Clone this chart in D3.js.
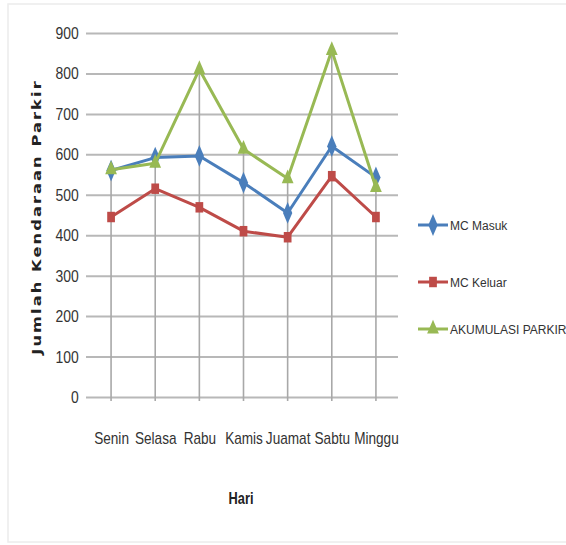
<!DOCTYPE html>
<html><head><meta charset="utf-8">
<script src="https://cdn.jsdelivr.net/npm/d3@7"></script>
<style>body{margin:0;background:#fff;} svg{display:block;}</style>
</head><body>
<svg id="c" width="566" height="545"></svg>
<script>
const days = ["Senin","Selasa","Rabu","Kamis","Juamat","Sabtu","Minggu"];
const mcMasuk = [560, 592, 596, 530, 455, 620, 543];
const mcKeluar = [445, 515, 469, 410, 395, 546, 445];
const akumulasi = [562, 578, 810, 613, 540, 857, 518];
const yTicks = [0,100,200,300,400,500,600,700,800,900];
const seriesNames = ["MC Masuk","MC Keluar","AKUMULASI PARKIR"];

const series = [
  {name: seriesNames[0], values: mcMasuk, color: "#4a7ebb", sym: d3.symbolDiamond, size: 75},
  {name: seriesNames[1], values: mcKeluar, color: "#be4b48", sym: d3.symbolSquare, size: 60},
  {name: seriesNames[2], values: akumulasi, color: "#98b954", sym: d3.symbolTriangle, size: 60}
];

const svg = d3.select("#c");
const font = "'Liberation Sans',Arial,sans-serif";

// outer faint border
svg.append("rect").attr("x",8).attr("y",4).attr("width",570).attr("height",538)
  .attr("fill","none").attr("stroke","#ececec").attr("stroke-width",1.5);

const plotL = 86, plotR = 398;
const y = d3.scaleLinear().domain([0,900]).range([397,33]);
const x = d3.scalePoint().domain(days).range([89,398]).padding(0.5);

// horizontal gridlines
const yAxis = d3.axisLeft(y).tickValues(yTicks).tickSize(-(plotR-plotL)).tickPadding(9);
const gy = svg.append("g").attr("transform",`translate(${plotL},0)`).call(yAxis);
gy.select(".domain").remove();
gy.selectAll(".tick line").attr("stroke","#b8b8b8").attr("stroke-width",2);
gy.selectAll(".tick text").attr("font-family",font).attr("font-size",17).attr("fill","#333")
  .attr("transform","scale(0.82,1)");

// drop lines from highest value to axis
svg.append("g").selectAll("line").data(days).join("line")
  .attr("x1",d=>x(d)).attr("x2",d=>x(d))
  .attr("y1",(d,i)=>y(Math.max(mcMasuk[i],mcKeluar[i],akumulasi[i])))
  .attr("y2",y(0)+4)
  .attr("stroke","#a8a8a8").attr("stroke-width",1.6);

// x axis labels
const xAxis = d3.axisBottom(x).tickSize(0).tickPadding(36);
const gx = svg.append("g").attr("transform",`translate(0,${y(0)})`).call(xAxis);
gx.select(".domain").remove();
gx.selectAll(".tick text").attr("font-family",font).attr("font-size",16).attr("fill","#333")
  .attr("transform","scale(0.85,1)");

// series lines and markers
const line = d3.line().x((d,i)=>x(days[i])).y(d=>y(d));
series.forEach(s=>{
  svg.append("path").datum(s.values).attr("d",line)
    .attr("fill","none").attr("stroke",s.color).attr("stroke-width",3).attr("stroke-linejoin","round");
  svg.append("g").selectAll("path").data(s.values).join("path")
    .attr("transform",(d,i)=>`translate(${x(days[i])},${y(d)}) scale(1,1.35)`)
    .attr("d",d3.symbol().type(s.sym).size(s.size))
    .attr("fill",s.color);
});

// axis titles
svg.append("text").attr("transform","translate(41,217) rotate(-90) scale(1.3,1)")
  .attr("text-anchor","middle").attr("font-family","'DejaVu Sans',sans-serif")
  .attr("font-weight","bold").attr("font-size",12.5).attr("letter-spacing",1.6)
  .attr("fill","#222").text("Jumlah Kendaraan Parkir");
svg.append("text").attr("transform","translate(241,504) scale(0.8,1)").attr("text-anchor","middle")
  .attr("font-family",font).attr("font-weight","bold").attr("font-size",16)
  .attr("fill","#222").text("Hari");

// legend
const legY = [225,282,329];
const lg = svg.append("g");
series.forEach((s,i)=>{
  const g = lg.append("g").attr("transform",`translate(418,${legY[i]})`);
  g.append("line").attr("x1",0).attr("x2",30).attr("stroke",s.color).attr("stroke-width",3);
  g.append("path").attr("transform","translate(15,0) scale(1,1.35)").attr("d",d3.symbol().type(s.sym).size(s.size)).attr("fill",s.color);
  g.append("text").attr("x",32).attr("y",4.5).attr("font-family",font).attr("font-size",12)
    .attr("fill","#333").text(s.name);
});
</script>
</body></html>
